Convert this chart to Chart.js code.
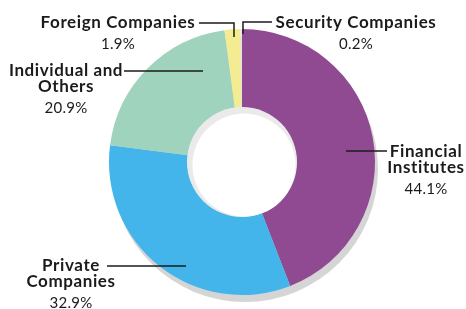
<!DOCTYPE html>
<html lang="en">
<head>
<meta charset="UTF-8">
<title>Shareholders</title>
<script src="https://cdn.jsdelivr.net/npm/chart.js"></script>
<style>
  html, body { margin: 0; padding: 0; background: #fff; }
  #wrap { width: 466px; height: 309px; }
</style>
</head>
<body>
<div id="wrap"><canvas id="myChart" width="466" height="309"></canvas></div>
<script>
// data
var categories = ['Financial Institutes', 'Private Companies', 'Individual and Others', 'Foreign Companies', 'Security Companies'];
var shares = [44.1, 32.9, 20.9, 1.9, 0.2];
var labelLines = [['Financial', 'Institutes'], ['Private', 'Companies'], ['Individual and', 'Others'], ['Foreign Companies'], ['Security Companies']];
var colors = ['#8f4a92', '#43b5ea', '#9fd3bd', '#f4ec93', '#e6e6e0'];

// where each label sits and where its leader line goes
var labelLayout = [
    { x: 426, y: 152, line: [[387, 151], [346, 151]] },
    { x: 71, y: 266, line: [[107, 266], [186, 266]] },
    { x: 66, y: 71, line: [[124, 71], [203, 71]] },
    { x: 118, y: 23, line: [[199, 23], [234, 23], [234, 37]] },
    { x: 356, y: 23, line: [[272, 22], [243, 22], [243, 34]] }
];

var bold = 'bold 17px Lato';
var regular = '15px Lato';

var shadowPlugin = {
    id: 'shadow',
    beforeDatasetsDraw: function(chart) {
        var arc = chart.getDatasetMeta(0).data[0];
        var ctx = chart.ctx;
        ctx.save();
        ctx.fillStyle = '#d5d5d5';
        ctx.beginPath();
        ctx.arc(arc.x + 3, arc.y + 7, arc.outerRadius, 0, Math.PI * 2);
        ctx.fill();
        ctx.restore();
    },
    afterDatasetsDraw: function(chart) {
        var arc = chart.getDatasetMeta(0).data[0];
        var ctx = chart.ctx;
        ctx.save();
        ctx.fillStyle = '#eaeaea';
        ctx.beginPath();
        ctx.arc(arc.x, arc.y, arc.innerRadius + 0.5, 0, Math.PI * 2);
        ctx.fill();
        ctx.fillStyle = '#ffffff';
        ctx.beginPath();
        ctx.arc(arc.x + 2, arc.y + 3, arc.innerRadius - 3, 0, Math.PI * 2);
        ctx.fill();
        ctx.restore();
    }
};

var labelPlugin = {
    id: 'labels',
    afterDraw: function(chart) {
        var ctx = chart.ctx;
        ctx.save();
        ctx.fillStyle = '#1b1b1b';
        ctx.strokeStyle = '#1b1b1b';
        ctx.lineWidth = 1.5;
        ctx.textAlign = 'center';
        ctx.textBaseline = 'middle';
        labelLayout.forEach(function(l, i) {
            ctx.font = bold;
            ctx.letterSpacing = '0.6px';
            labelLines[i].forEach(function(t, j) {
                ctx.fillText(t, l.x, l.y + j * 16);
            });
            ctx.font = regular;
            ctx.letterSpacing = '0.3px';
            ctx.fillText(shares[i].toFixed(1) + '%', l.x, l.y + labelLines[i].length * 16 + 5);
            ctx.beginPath();
            l.line.forEach(function(p, k) {
                if (k === 0) ctx.moveTo(p[0], p[1]); else ctx.lineTo(p[0], p[1]);
            });
            ctx.stroke();
        });
        ctx.restore();
    }
};

new Chart(document.getElementById('myChart'), {
    type: 'doughnut',
    data: {
        labels: categories,
        datasets: [{
            data: shares,
            backgroundColor: colors,
            borderWidth: 0,
            hoverOffset: 0
        }]
    },
    options: {
        responsive: false,
        animation: false,
        cutout: '41%',
        layout: { padding: { top: 29, bottom: 14, left: 109, right: 91 } },
        plugins: { legend: { display: false }, tooltip: { enabled: false } }
    },
    plugins: [shadowPlugin, labelPlugin]
});
</script>
</body>
</html>
